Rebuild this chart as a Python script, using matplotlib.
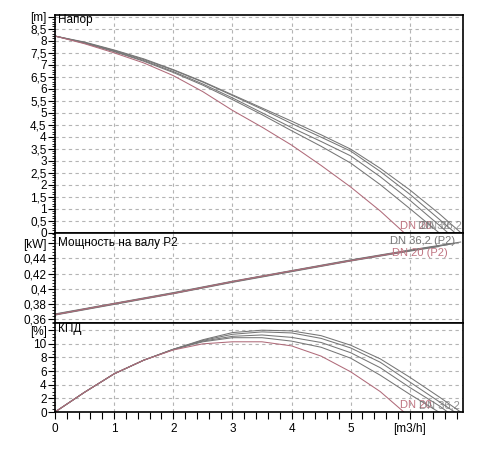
import matplotlib
matplotlib.use("Agg")
import matplotlib.pyplot as plt
from matplotlib.ticker import MultipleLocator, FixedLocator

plt.rcParams['font.family'] = ['Liberation Sans', 'DejaVu Sans']
plt.rcParams['font.size'] = 8.5

# --- data ---
# head curves [m] vs flow [m3/h]
q_a = [0, 0.5, 1, 1.5, 2, 2.5, 3, 3.5, 4, 4.5, 5, 5.5, 6, 6.5, 6.86]
h_a = [8.2, 7.95, 7.62, 7.25, 6.8, 6.3, 5.75, 5.2, 4.65, 4.08, 3.48, 2.68, 1.78, 0.78, 0]
q_b = [0, 0.5, 1, 1.5, 2, 2.5, 3, 3.5, 4, 4.5, 5, 5.5, 6, 6.5, 6.76]
h_b = [8.2, 7.93, 7.6, 7.22, 6.78, 6.28, 5.72, 5.15, 4.55, 3.98, 3.4, 2.55, 1.6, 0.55, 0]
q_c = [0, 0.5, 1, 1.5, 2, 2.5, 3, 3.5, 4, 4.5, 5, 5.5, 6, 6.5, 6.64]
h_c = [8.2, 7.92, 7.57, 7.18, 6.72, 6.2, 5.62, 5.0, 4.38, 3.8, 3.2, 2.33, 1.35, 0.3, 0]
q_d = [0, 0.5, 1, 1.5, 2, 2.5, 3, 3.5, 4, 4.5, 5, 5.5, 6, 6.49]
h_d = [8.2, 7.9, 7.55, 7.15, 6.68, 6.15, 5.55, 4.92, 4.25, 3.6, 2.9, 2.0, 1.0, 0]
q_20 = [0, 0.5, 1, 1.5, 2, 2.5, 3, 3.5, 4, 4.5, 5, 5.5, 5.9]
h_20 = [8.2, 7.88, 7.5, 7.08, 6.55, 5.88, 5.1, 4.4, 3.65, 2.8, 1.9, 0.9, 0]

# shaft power P2 [kW]
pq_a = [0, 1, 2, 3, 4, 5, 6, 6.86]
p_a = [0.367, 0.381, 0.395, 0.410, 0.424, 0.438, 0.451, 0.4615]
pq_b = [0, 1, 2, 3, 4, 5, 6, 6.76]
p_b = [0.3665, 0.3805, 0.3945, 0.4095, 0.4235, 0.4375, 0.4505, 0.4595]
pq_c = [0, 1, 2, 3, 4, 5, 6, 6.64]
p_c = [0.366, 0.380, 0.394, 0.409, 0.423, 0.437, 0.450, 0.458]
pq_d = [0, 1, 2, 3, 4, 5, 6, 6.49]
p_d = [0.3655, 0.3795, 0.3935, 0.4085, 0.4225, 0.4365, 0.4495, 0.4555]
pq_20 = [0, 1, 2, 3, 4, 5, 5.9]
p_20 = [0.366, 0.3805, 0.394, 0.4095, 0.4235, 0.437, 0.449]

# efficiency [%]
e_a = [0, 2.9, 5.6, 7.6, 9.2, 10.6, 11.65, 12.0, 11.9, 11.2, 9.8, 7.8, 5.1, 2.2, 0]
e_b = [0, 2.9, 5.6, 7.6, 9.2, 10.5, 11.4, 11.75, 11.6, 10.8, 9.4, 7.3, 4.4, 1.5, 0]
e_c = [0, 2.9, 5.6, 7.6, 9.2, 10.4, 11.1, 11.3, 10.95, 10.2, 8.7, 6.5, 3.6, 0.9, 0]
e_d = [0, 2.9, 5.6, 7.6, 9.15, 10.3, 10.9, 10.9, 10.4, 9.5, 7.9, 5.4, 2.6, 0]
e_20 = [0, 2.9, 5.6, 7.6, 9.1, 10.0, 10.3, 10.3, 9.7, 8.2, 5.9, 3.0, 0]

gray = '#767676'
pink = '#b06b7a'
pink_txt = '#c07582'
grid_kw = dict(color='#b4b4b4', linestyle=(0, (3, 3)), linewidth=0.8)

fig = plt.figure(figsize=(5, 4.5), dpi=100)
L, W = 0.11, 0.816
ax_h = fig.add_axes([L, 0.4833, W, 0.9667 - 0.4833])
ax_p = fig.add_axes([L, 0.2829, W, 0.4833 - 0.2829])
ax_e = fig.add_axes([L, 0.0844, W, 0.2829 - 0.0844])


def fmt(v, d):
    s = ('%.' + str(d) + 'f') % v
    s = s.rstrip('0').rstrip('.') if '.' in s else s
    return s.replace('.', ',')


def setup(ax, ymin, ymax, ticks, dec, top_val, top_lab, minor):
    ax.set_xlim(0, 6.9)
    ax.set_ylim(ymin, ymax)
    allt = ticks + [top_val]
    ax.yaxis.set_major_locator(FixedLocator(allt))
    ax.set_yticklabels([fmt(t, dec) for t in ticks] + [top_lab])
    ax.yaxis.set_minor_locator(MultipleLocator(minor))
    ax.xaxis.set_major_locator(MultipleLocator(1))
    ax.xaxis.set_minor_locator(MultipleLocator(0.2))
    ax.grid(True, which='major', **grid_kw)
    ax.set_axisbelow(True)
    ax.tick_params(axis='y', which='major', length=5, width=0.8, pad=1)
    ax.tick_params(axis='y', which='minor', length=2.5, width=0.6)
    for s in ax.spines.values():
        s.set_linewidth(1.2)


setup(ax_h, 0, 9.08, [i * 0.5 for i in range(18)], 1, 9, '[m]', 0.1)
setup(ax_p, 0.3555, 0.474, [0.36, 0.38, 0.40, 0.42, 0.44], 2, 0.46, '[kW]', 0.004)
setup(ax_e, 0, 13.1, [0, 2, 4, 6, 8, 10], 0, 12, '[%]', 0.5)

for ax in (ax_h, ax_p):
    ax.tick_params(axis='x', which='both', length=0, labelbottom=False)
ax_e.xaxis.set_major_locator(FixedLocator([0, 1, 2, 3, 4, 5, 6]))
ax_e.set_xticklabels(['0', '1', '2', '3', '4', '5', '[m3/h]'])
ax_e.tick_params(axis='x', which='both', length=5, width=0.8, pad=3)

lw = 0.75
# head
for q, h in ((q_a, h_a), (q_b, h_b), (q_c, h_c), (q_d, h_d)):
    ax_h.plot(q, h, color=gray, lw=lw)
ax_h.plot(q_20, h_20, color=pink, lw=lw)
ax_h.text(0.05, 8.85, 'Напор', va='center', ha='left')
ax_h.text(5.83, 0.28, 'DN 20', color=pink_txt, va='center', ha='left', fontsize=8)
ax_h.text(6.68, 0.28, 'DN 32', color=gray, va='center', ha='right', fontsize=8, alpha=0.75)
ax_h.text(6.88, 0.28, 'DN 36,2', color=gray, va='center', ha='right', fontsize=8, alpha=0.75)

# power
for q, p in ((pq_a, p_a), (pq_b, p_b), (pq_c, p_c), (pq_d, p_d)):
    ax_p.plot(q, p, color=gray, lw=lw)
ax_p.plot(pq_20, p_20, color=pink, lw=lw)
ax_p.text(0.05, 0.4605, 'Мощность на валу P2', va='center', ha='left')
ax_p.text(6.77, 0.4625, 'DN 36,2 (P2)', color=gray, va='center', ha='right', fontsize=8)
ax_p.text(6.65, 0.4475, 'DN 20 (P2)', color=pink_txt, va='center', ha='right', fontsize=8)

# efficiency
ax_e.plot(q_a, e_a, color=gray, lw=lw)
ax_e.plot(q_b, e_b, color=gray, lw=lw)
ax_e.plot(q_c, e_c, color=gray, lw=lw)
ax_e.plot(q_d, e_d, color=gray, lw=lw)
ax_e.plot(q_20, e_20, color=pink, lw=lw)
ax_e.text(0.05, 12.2, 'КПД', va='center', ha='left')
ax_e.text(5.83, 1.0, 'DN 20', color=pink_txt, va='center', ha='left', fontsize=8)
ax_e.text(6.84, 1.0, 'DN 36,2', color=gray, va='center', ha='right', fontsize=8, alpha=0.8)

fig.savefig('out.png', dpi=100)
plt.close(fig)
